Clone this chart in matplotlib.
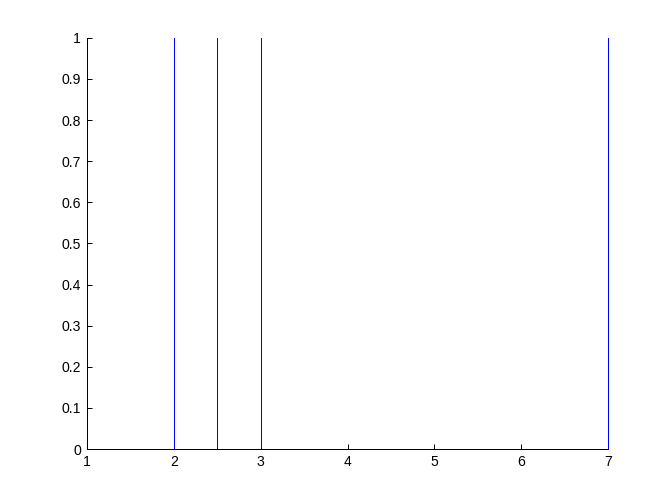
import matplotlib
matplotlib.use("Agg")
import matplotlib.pyplot as plt

x_positions = [2, 2.5, 3, 7]
line_colors = ["#0000ff", "#0000ff", "#0000ff", "#0000ff"]
x_ticks = [1, 2, 3, 4, 5, 6, 7]
y_ticks = [0, 0.1, 0.2, 0.3, 0.4, 0.5, 0.6, 0.7, 0.8, 0.9, 1]
y_labels = ["0", "0.1", "0.2", "0.3", "0.4", "0.5", "0.6", "0.7", "0.8", "0.9", "1"]

plt.rcParams['font.family'] = ['Liberation Sans', 'DejaVu Sans']
fig = plt.figure(figsize=(7, 5.25), dpi=96)
ax = fig.add_axes([0.1295, 0.109, 0.7755, 0.816])
for xp, c in zip(x_positions, line_colors):
    ax.plot([xp, xp], [0, 1], color=c, lw=0.75, solid_capstyle='butt',
            antialiased=False, clip_on=False)
ax.set_xlim(1, 7)
ax.set_ylim(0, 1)
ax.set_xticks(x_ticks)
ax.set_xticklabels([str(t) for t in x_ticks])
ax.set_yticks(y_ticks)
ax.set_yticklabels(y_labels)
ax.spines['top'].set_visible(False)
ax.spines['right'].set_visible(False)
for s in ['left', 'bottom']:
    ax.spines[s].set_linewidth(0.75)
    ax.spines[s].set_antialiased(False)
ax.tick_params(direction='in', length=4, width=0.75, labelsize=10.5, pad=4.5)
fig.savefig("out.png", dpi=96)
